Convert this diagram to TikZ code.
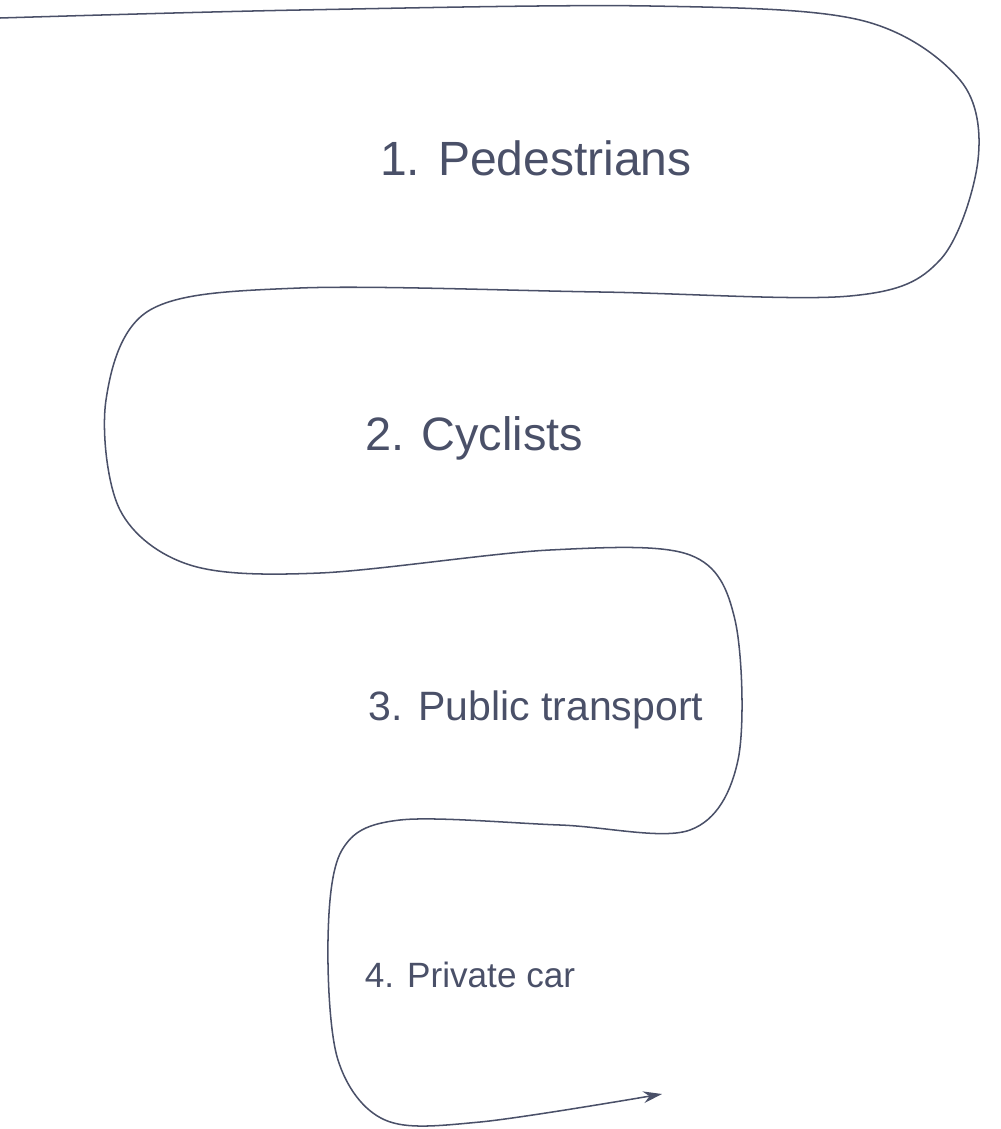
\documentclass[tikz,border=0pt]{standalone}
\usepackage{fontspec}
\setmainfont{Liberation Sans}
\usetikzlibrary{arrows.meta}
\definecolor{ink}{HTML}{4A5068}
\begin{document}
\begin{tikzpicture}[x=0.03cm,y=-0.03cm,
  lbl/.style={text=ink,inner sep=0pt}]
\useasboundingbox (0,0) rectangle (1000,1129);
\draw[ink,line width=1.3pt,-{Stealth[length=16pt,width=10pt]}] plot[smooth,tension=0.55] coordinates{
 (0,18) (300,10) (650,6) (860,20) (960,80) (978,160) (940,260) (850,296) (600,292) (300,288) (150,310) (106,400) (120,510) (190,565) (320,573) (550,550) (690,555) (735,620) (738,760) (690,830) (560,825) (400,820) (342,850) (328,940) (338,1060) (385,1120) (480,1122) (662,1094)};
\node[lbl,font=\fontsize{41}{41}\selectfont] (p) at (536,158) {1. Pedestrians};
\node[lbl,font=\fontsize{40}{40}\selectfont] (c) at (474,438) {2. Cyclists};
\node[lbl,font=\fontsize{35}{35}\selectfont] (t) at (536,710) {3. Public transport};
\node[lbl,font=\fontsize{30}{30}\selectfont] (v) at (470,975) {4. Private car};
\end{tikzpicture}
\end{document}
